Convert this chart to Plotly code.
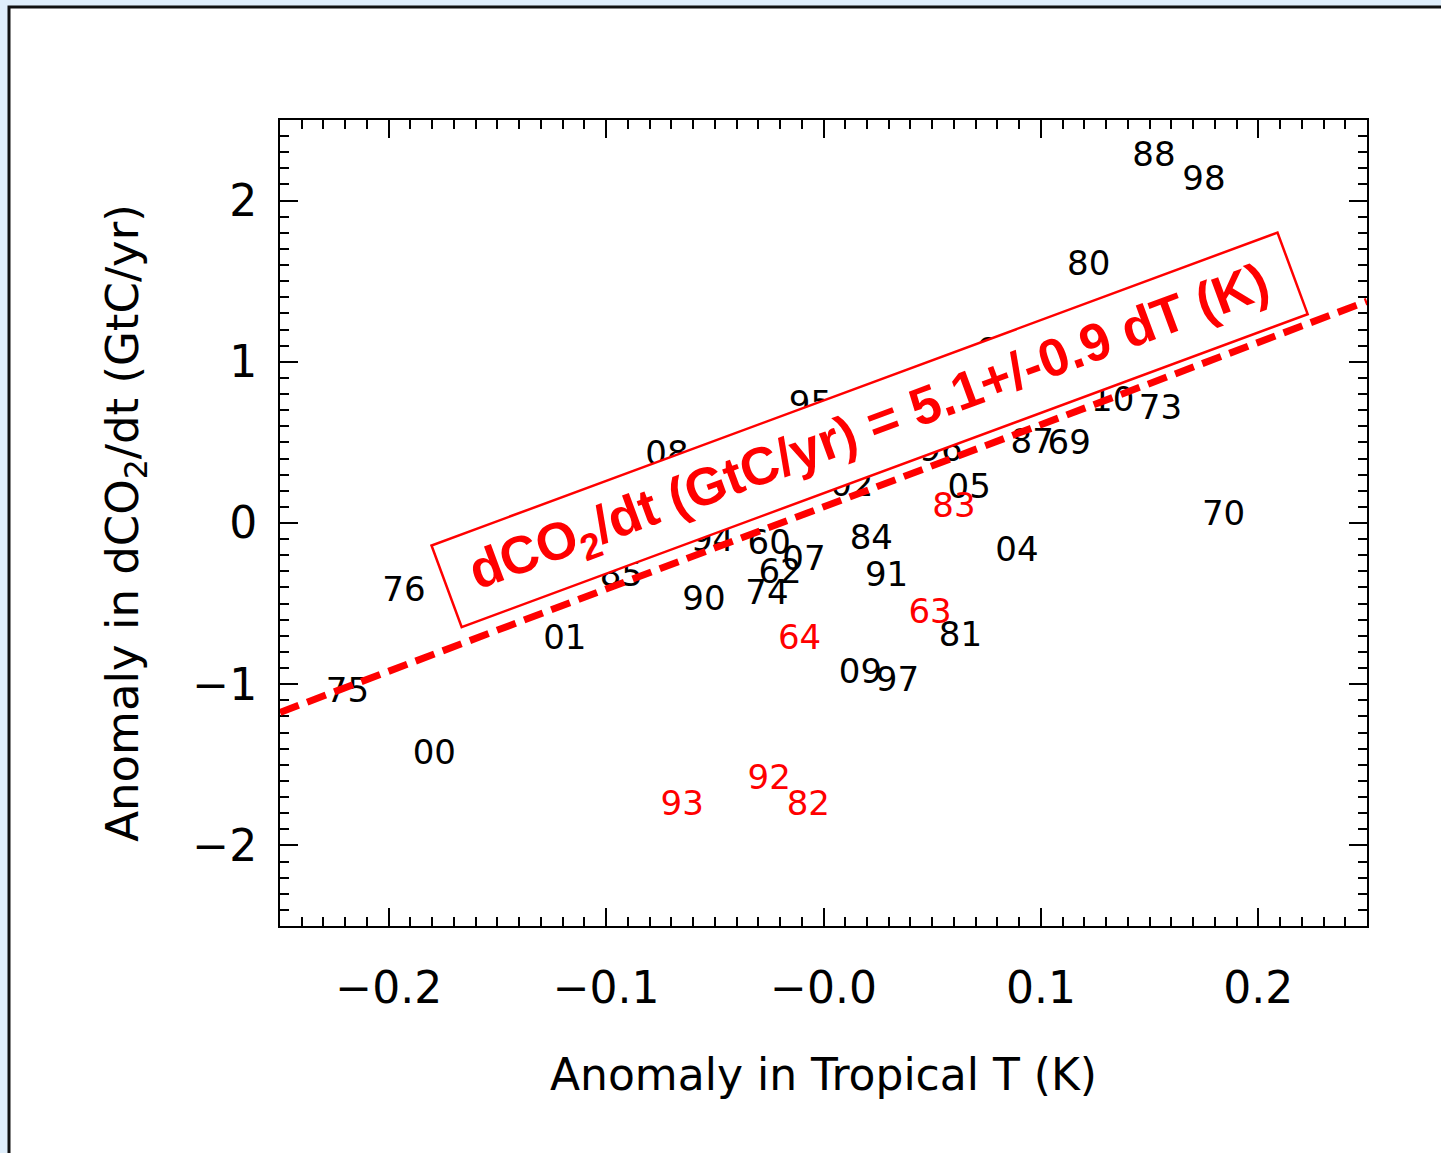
import math
import plotly.graph_objects as go

# Year labels (two-digit) with tropical temperature anomaly (K) and
# CO2 growth-rate anomaly (GtC/yr)
years = ["88", "98", "80", "65", "10", "73", "87", "69", "96", "05",
         "70", "04", "84", "91", "81", "09", "97", "76", "01", "75",
         "00", "08", "95", "02", "94", "85", "60", "07", "62", "74",
         "90", "83", "63", "64", "92", "82", "93"]
temp_anom = [0.152, 0.175, 0.122, 0.080, 0.133, 0.155, 0.096, 0.113, 0.054, 0.067,
             0.184, 0.089, 0.022, 0.029, 0.063, 0.017, 0.034, -0.193, -0.119, -0.219,
             -0.179, -0.072, -0.006, 0.013, -0.051, -0.093, -0.025, -0.009, -0.020, -0.026,
             -0.055, 0.060, 0.049, -0.011, -0.025, -0.007, -0.065]
co2_anom = [2.27, 2.12, 1.59, 1.05, 0.75, 0.70, 0.49, 0.48, 0.44, 0.21,
            0.04, -0.18, -0.11, -0.34, -0.71, -0.94, -0.99, -0.43, -0.73, -1.06,
            -1.44, 0.41, 0.72, 0.22, -0.12, -0.34, -0.14, -0.24, -0.32, -0.45,
            -0.49, 0.09, -0.57, -0.73, -1.60, -1.76, -1.76]
# Years highlighted in red (volcanic / anomalous years)
red_years = ["83", "63", "64", "92", "82", "93"]

# Linear fit dCO2/dt = a + b * dT
fit_slope = 5.1
fit_slope_err = 0.9
fit_intercept = 0.1

x_ticks = [-0.2, -0.1, 0.0, 0.1, 0.2]
x_ticktext = ["\u22120.2", "\u22120.1", "\u22120.0", "0.1", "0.2"]
y_ticks = [-2, -1, 0, 1, 2]
y_ticktext = ["\u22122", "\u22121", "0", "1", "2"]

X_RANGE = [-0.25, 0.25]
Y_RANGE = [-2.5, 2.5]

W, H = 1441, 1153
M_L, M_R, M_T, M_B = 280, 74, 120, 227
plot_w = W - M_L - M_R
plot_h = H - M_T - M_B
px_per_x = plot_w / (X_RANGE[1] - X_RANGE[0])
px_per_y = plot_h / (Y_RANGE[1] - Y_RANGE[0])

FONT = "DejaVu Sans"
RED = "#ff0000"

colors = [RED if y in red_years else "black" for y in years]

fig = go.Figure()
fig.add_trace(go.Scatter(
    x=temp_anom, y=co2_anom, text=years, mode="text",
    textposition="middle center",
    textfont=dict(family=FONT, size=34, color=colors),
    cliponaxis=False, hoverinfo="skip", showlegend=False,
))

# Rotated label box for the fit equation (built in pixel space, mapped to data)
box_cx, box_cy = 0.0212, 0.578
box_angle = 20.3          # degrees, counter-clockwise
box_len, box_hgt = 902, 87
ca, sa = math.cos(math.radians(box_angle)), math.sin(math.radians(box_angle))
corners = []
for su, sv in [(-1, -1), (1, -1), (1, 1), (-1, 1)]:
    du = su * box_len / 2
    dv = sv * box_hgt / 2
    dx_px = du * ca - dv * sa
    dy_px = du * sa + dv * ca
    corners.append((box_cx + dx_px / px_per_x, box_cy + dy_px / px_per_y))
path = "M " + " L ".join(f"{cx},{cy}" for cx, cy in corners) + " Z"

shapes = [
    # white page with dark frame on light-blue background
    dict(type="rect", xref="paper", yref="paper",
         x0=(9 - M_L) / plot_w, x1=(W + 20 - M_L) / plot_w,
         y0=(M_T + plot_h - (H + 20)) / plot_h, y1=(M_T + plot_h - 7) / plot_h,
         fillcolor="white", line=dict(color="#111111", width=3), layer="below"),
    dict(type="path", path=path, xref="x", yref="y",
         fillcolor="white", line=dict(color=RED, width=2.5), layer="above"),
    dict(type="line", xref="x", yref="y",
         x0=X_RANGE[0], y0=fit_intercept + fit_slope * X_RANGE[0],
         x1=X_RANGE[1], y1=fit_intercept + fit_slope * X_RANGE[1],
         line=dict(color=RED, width=7, dash="20px,9px"), layer="above"),
]

fig.add_annotation(
    x=box_cx, y=box_cy, xref="x", yref="y",
    text=f"<b>dCO<sub>2</sub>/dt (GtC/yr) = {fit_slope}+/-{fit_slope_err} dT (K)</b>",
    textangle=-box_angle, showarrow=False,
    font=dict(family="Liberation Sans", size=53, color=RED),
)

axis_common = dict(
    showline=True, linecolor="black", linewidth=2, mirror="allticks",
    ticks="inside", ticklen=18, tickwidth=2, tickcolor="black",
    showgrid=False, zeroline=False,
    tickfont=dict(family=FONT, size=44, color="black"),
)

fig.update_xaxes(
    range=X_RANGE, tickmode="array", tickvals=x_ticks, ticktext=x_ticktext,
    minor=dict(ticks="inside", ticklen=9, tickwidth=2, tickcolor="black",
               tickmode="linear", tick0=0, dtick=0.01, showgrid=False),
    ticklabelstandoff=22,
    title=dict(text="Anomaly in Tropical T (K)", standoff=47,
               font=dict(family=FONT, size=44, color="black")),
    **axis_common,
)
fig.update_yaxes(
    range=Y_RANGE, tickmode="array", tickvals=y_ticks, ticktext=y_ticktext,
    minor=dict(ticks="inside", ticklen=9, tickwidth=2, tickcolor="black",
               tickmode="linear", tick0=0, dtick=0.1, showgrid=False),
    ticklabelstandoff=12,
    title=dict(text="Anomaly in dCO<sub>2</sub>/dt (GtC/yr)", standoff=40,
               font=dict(family=FONT, size=45, color="black")),
    **axis_common,
)

fig.update_layout(
    width=W, height=H,
    margin=dict(l=M_L, r=M_R, t=M_T, b=M_B, autoexpand=False),
    paper_bgcolor="#dfeefb", plot_bgcolor="white",
    shapes=shapes, showlegend=False,
)

fig.write_html("out.html")
